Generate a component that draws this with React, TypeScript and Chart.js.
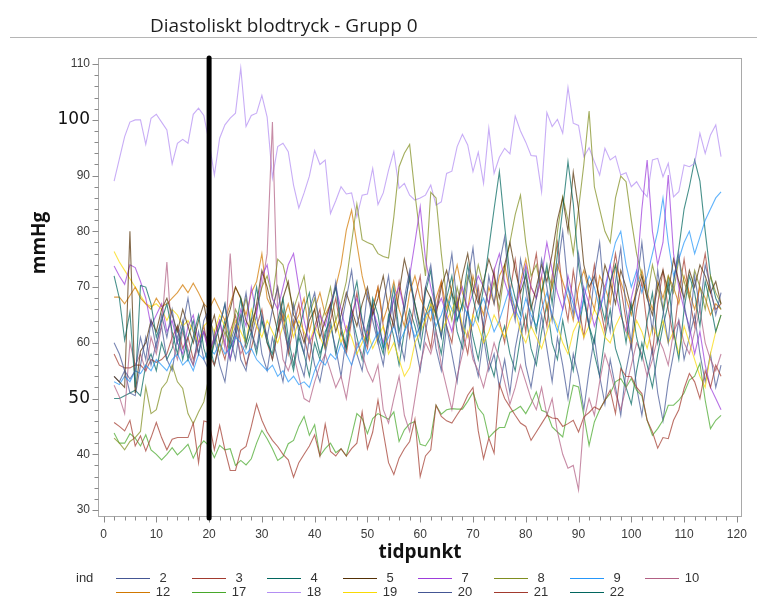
import React, { useEffect, useRef } from 'react';
import { Chart, registerables } from 'chart.js';

Chart.register(...registerables);

const chartTitle = 'Diastoliskt blodtryck - Grupp 0';
const xAxisTitle = 'tidpunkt';
const yAxisTitle = 'mmHg';
const legendTitle = 'ind';

const timepoints = [
  2, 3, 4, 5, 6, 7, 8, 9, 10, 11,
  12, 13, 14, 15, 16, 17, 18, 19, 20, 21,
  22, 23, 24, 25, 26, 27, 28, 29, 30, 31,
  32, 33, 34, 35, 36, 37, 38, 39, 40, 41,
  42, 43, 44, 45, 46, 47, 48, 49, 50, 51,
  52, 53, 54, 55, 56, 57, 58, 59, 60, 61,
  62, 63, 64, 65, 66, 67, 68, 69, 70, 71,
  72, 73, 74, 75, 76, 77, 78, 79, 80, 81,
  82, 83, 84, 85, 86, 87, 88, 89, 90, 91,
  92, 93, 94, 95, 96, 97, 98, 99, 100, 101,
  102, 103, 104, 105, 106, 107, 108, 109, 110, 111,
  112, 113, 114, 115, 116, 117,
];

const xTickValues = [0, 10, 20, 30, 40, 50, 60, 70, 80, 90, 100, 110, 120];
const yTickValues = [30, 40, 50, 60, 70, 80, 90, 100, 110];
const yLargeLabels = [50, 100];
const minorStep = 2;
const referenceTimepoint = 20;

const s2 = [
  60, 58, 55, 53.5, 55, 61, 57, 64, 59, 65,
  61, 66, 60, 63, 68, 62, 58, 64, 66, 60,
  63, 67, 61, 57, 64, 69, 62, 59, 65, 61,
  66, 70, 63, 59, 67, 62, 58, 66, 69, 63,
  59, 66, 71, 63, 68, 73, 65, 61, 69, 64,
  60, 67, 72, 64, 59, 68, 73, 65, 61, 70,
  74, 66, 61, 70, 76, 67, 62, 71, 77, 68,
  63, 72, 67, 74, 79, 69, 64, 75, 70, 63,
  68, 75, 70, 64, 73, 80, 70, 65, 76, 69,
  63, 72, 78, 67, 62, 71, 77, 66, 60, 70,
  78, 69, 62, 73, 66, 60, 71, 76, 67, 62,
  72, 66, 74, 70, 65, 69,
];

const s3 = [
  45.7, 45, 44.2, 46.1, 41.5, 43.3, 40.6, 43, 45.7, 43,
  40.8, 42.7, 43, 43, 43, 45.6, 38.5, 46, 45.7, 40.8,
  45.2, 40.8, 37.1, 37.1, 40.7, 41.4, 45, 49, 46.1, 44,
  42.5, 41.4, 40, 39, 35.9, 38.5, 40, 41.5, 43.5, 39.7,
  45.4, 40.5, 39.7, 41, 39.7, 41, 42, 47.6, 41, 44,
  49.7, 44, 38.5, 36.4, 39.3, 41, 42.3, 46.3, 36, 39.7,
  40.8, 48.8, 46.8, 46, 45.6, 47.1, 48.5, 50.6, 52, 44.2,
  39.2, 42.9, 40.2, 52.6, 50, 48.5, 47, 45.6, 45, 42.5,
  44, 45.5, 47, 46.5, 46.4, 45, 45.5, 46.1, 44, 46.7,
  47.5, 48.5, 48, 49.7, 51.5, 47.3, 55.4, 54, 53.9, 52,
  50.9, 46.1, 44, 41.1, 43, 42.8, 46.1, 48, 51.8, 54.5,
  53, 50, 55, 52, 56, 54,
];

const s4 = [
  72, 68, 60.5, 65.5, 52, 70.3, 70, 67, 61, 64,
  67, 62, 58, 63, 57, 61, 65, 59, 56, 60,
  63, 67, 59, 62, 68, 60, 64, 70, 64, 60,
  58, 64, 68, 61, 56, 62, 66, 69, 62, 58,
  61, 66, 70, 63, 59, 67, 71, 64, 60, 68,
  65, 59, 64, 70, 62, 66, 72, 67, 62, 69,
  73, 65, 61, 68, 72, 64, 67, 74, 68, 64,
  70, 77, 84, 90.7, 81, 72, 68, 65, 73, 67,
  62, 69, 74, 67, 76, 84, 92.5, 85, 74, 68,
  63, 60, 68, 64, 71, 74, 66, 60, 67, 61,
  57, 64, 69, 60, 65, 71, 62, 57, 66, 72,
  69, 63, 71, 67, 62, 65,
];

const s5 = [
  54, 53, 52, 80, 51, 58.5, 60, 64, 62, 66,
  68, 65, 62, 66, 63, 60, 64, 67, 62, 65,
  60, 63, 66, 70, 68, 64, 62, 67, 73, 70,
  66, 62, 68, 71, 65, 63, 60, 64, 66, 61,
  64, 67, 62, 65, 69, 66, 63, 67, 70, 65,
  68, 72, 66, 63, 69, 75, 71, 67, 63, 70,
  68, 65, 70, 73, 69, 66, 72, 76, 70, 67,
  71, 75, 72, 68, 74, 78, 73, 69, 72, 66,
  70, 74, 71, 76, 82, 86, 80, 90.6, 84, 74,
  70, 72, 68, 74, 71, 67, 73, 70, 66, 69,
  72, 68, 65, 70, 73, 69, 75, 71, 68, 73,
  70, 74, 72, 69, 71, 67,
];

const s7 = [
  73.8, 72, 70.5, 74, 73.5, 71, 68, 63, 65, 67,
  62, 64, 60, 58, 63, 65, 60, 62, 58, 61,
  64, 60, 57, 62, 66, 63, 70, 65, 72, 74,
  68, 66, 70, 74, 76, 70, 64, 60, 62, 65,
  63, 67, 70, 66, 62, 65, 68, 64, 61, 66,
  63, 60, 64, 68, 70, 66, 72, 78, 84.4, 75,
  70, 66, 68, 65, 62, 67, 70, 66, 69, 72,
  70, 67, 73, 76, 71, 68, 65, 70, 74, 70,
  68, 72, 78, 73, 69, 66, 72, 68, 64, 70,
  67, 63, 66, 70, 74, 69, 65, 62, 68, 72,
  84, 92.8, 80, 74, 78, 90.1, 76, 70, 66, 63,
  58, 62, 56, 52, 50, 48,
];

const s8 = [
  42.9, 42, 40.8, 42.3, 43, 44.1, 52.1, 47.3, 48, 51.8,
  53, 56, 53, 51.8, 47.3, 45.5, 47.6, 49.4, 54, 62,
  58, 62, 60, 66, 64, 68, 63, 66, 70, 72,
  68, 75, 74, 70, 66, 69, 72, 65, 68, 63,
  66, 70, 64, 67, 71, 78, 84.9, 78.5, 78, 77.6,
  76, 75.5, 75.2, 82.6, 91.6, 94, 95.6, 86.8, 79, 72,
  87, 86, 76, 68, 64, 70, 66, 72, 69, 74,
  70, 67, 71, 66, 73, 78, 83, 86.5, 78, 72,
  74, 69, 73, 70, 80, 86.2, 82, 76, 84, 92,
  101.6, 88, 84, 80, 78, 86, 89.9, 88.9, 82, 76,
  72, 68, 74, 70, 66, 72, 69, 75, 71, 68,
  73, 70, 66, 72, 69, 67,
];

const s9 = [
  53, 52.5, 54, 53, 55, 54.5, 56, 55, 57, 56,
  55, 57, 58, 56, 57, 55, 58, 57, 59, 58,
  60, 58, 59, 61, 60, 58, 59, 57, 56, 55,
  56, 54, 55, 53, 54, 52.5, 53, 52, 55, 57,
  56, 58, 57, 60, 58, 56, 59, 61, 58, 60,
  62, 59, 61, 63, 60, 62, 64, 61, 63, 65,
  66, 63, 65, 68, 66, 64, 67, 65, 63, 66,
  68, 65, 62, 64, 67, 70, 66, 64, 68, 65,
  63, 66, 69, 65, 62, 66, 70, 67, 64, 68,
  72, 70, 66, 69, 74, 78, 80, 74, 70, 73,
  69, 72, 76, 80, 86, 78, 72, 75, 78, 80,
  76, 79, 82, 84, 86, 87.1,
];

const s10 = [
  52.4, 50.3, 47.3, 60, 56, 58, 55, 61, 58, 63,
  74.5, 60, 57, 62, 59, 56, 60, 62, 58, 61,
  64, 59, 76, 62, 58, 60, 64, 66, 70, 76,
  99.6, 65, 57, 55, 58, 54, 50, 49.4, 53, 56,
  58, 55, 52, 54, 50, 56, 60, 58, 55, 53,
  56, 48, 45.6, 50, 54, 47, 44.1, 50, 56, 60,
  58, 62, 56, 52, 48, 54, 58, 62, 57, 55,
  52, 56, 60, 57, 53, 49, 52, 56, 53, 50,
  48, 52, 47, 50, 44, 40, 37.5, 38, 33.6, 46,
  50, 47, 53, 58, 55, 51, 48, 52, 56, 60,
  58, 54, 57, 61, 59, 56, 62, 64, 60, 58,
  62, 66, 60, 57, 55, 58,
];

const s12 = [
  68.2, 68.2, 67, 68.5, 70, 68, 67, 66, 68, 66.5,
  67, 68, 69, 70.4, 69, 70.7, 69, 67, 66, 68,
  66, 64, 67, 70, 68, 65, 69, 71, 76, 68,
  66, 70, 64, 67, 63, 65, 68, 62, 66, 69,
  65, 67, 70, 74, 80.2, 83.8, 77.8, 72, 68, 66,
  70, 64, 67, 71, 66, 63, 69, 72, 68, 66,
  64, 68, 71, 66, 70, 74, 69, 66, 72, 68,
  65, 70, 67, 72, 74, 69, 66, 71, 75, 70,
  68, 72, 66, 70, 74, 71, 68, 64, 70, 73,
  69, 66, 72, 70, 67, 74, 71, 68, 65, 70,
  73, 69, 66, 71, 68, 72, 70, 67, 72, 69,
  66, 70, 68, 65, 67, 66,
];

const s17 = [
  43.8, 42, 42, 43.7, 42.9, 41.5, 43.5, 40.8, 40, 39,
  40, 41.2, 39.9, 40.8, 41.8, 39.3, 41.3, 42.4, 41.5, 39.4,
  41.6, 40.8, 41, 38, 38.9, 38.1, 39.2, 42, 44.3, 42.8,
  41, 38.9, 39.6, 41.9, 42.5, 45, 46.8, 43.4, 45.3, 39.7,
  41, 42, 40.3, 41, 39.7, 43.3, 47.3, 46.4, 43.7, 46.4,
  47.3, 46.8, 46.3, 47.6, 42.3, 44.4, 45.5, 45.9, 41.8, 41.5,
  43, 48.8, 47.2, 48, 48.2, 48.1, 48.1, 49.5, 51.1, 48.3,
  47.1, 43, 44, 44.8, 44.8, 47.5, 48, 48.6, 47.3, 49,
  51.2, 47.9, 47.5, 44.9, 44, 43.1, 48, 52.4, 52.1, 47,
  41.6, 45.8, 48, 49.7, 50.9, 53, 53.6, 52, 53.6, 51.5,
  50.5, 46.1, 43.4, 44.6, 46.1, 48.8, 48.8, 49.7, 51, 53.3,
  54, 56.3, 49.7, 44.6, 46.1, 47,
];

const s18 = [
  89, 93, 97, 99.6, 100, 100, 95.6, 100.3, 101, 99.6,
  98.2, 92.1, 95.8, 96.5, 95.8, 101, 102.1, 100.8, 96, 90.1,
  96.7, 99.1, 100.3, 101.2, 109.3, 98.8, 100.8, 101.2, 104.4, 100.5,
  89.6, 95.2, 95.8, 94.3, 88.3, 84.2, 86.9, 89.9, 94.5, 92,
  92.8, 83.2, 85.5, 88, 86.7, 86.9, 82.6, 86.5, 86.7, 91.3,
  84.8, 86.9, 91, 94.3, 87.7, 88.6, 86.5, 85.6, 86, 86.5,
  88.3, 84.7, 85.3, 90.4, 90.8, 95.2, 97.4, 95.5, 90.7, 94.2,
  88.6, 98.5, 90.4, 93.3, 94.9, 93.9, 100.7, 98, 96, 93.6,
  93.5, 87.1, 101.3, 98.8, 100.1, 97.6, 105.8, 99.4, 99, 93.4,
  95, 92.5, 90.1, 94.9, 92.8, 93.5, 90.1, 90.5, 88, 88.9,
  87.3, 86.2, 92.8, 93.1, 89.8, 92.2, 86.2, 87.1, 91.9, 91.6,
  92.2, 97.6, 94, 97.3, 99.1, 93.4,
];

const s19 = [
  76.4, 74.5, 73, 71.5, 70, 68.5, 67, 66.5, 67, 66,
  64, 66, 65, 63, 64, 62, 60, 63, 64, 62,
  65, 63, 61, 64, 62, 60, 66, 63, 61, 64,
  62, 60, 63, 65, 61, 64, 62, 60, 63, 61,
  59, 62, 64, 60, 63, 61, 58, 60, 62, 59,
  61, 63, 58, 60, 57, 54, 55.5, 60, 62, 64,
  67, 65, 62, 64, 66, 68, 63, 61, 65, 63,
  60, 62, 65, 63, 61, 64, 66, 62, 60, 63,
  61, 59, 62, 65, 63, 60, 58, 62, 64, 61,
  63, 66, 64, 61, 60, 63, 65, 62, 60, 64,
  62, 59, 63, 61, 64, 60, 62, 58, 63, 60,
  57, 54, 52, 58, 62, 65,
];

const s20 = [
  54, 53, 55, 51, 50.5, 56, 61, 56, 60, 63,
  57, 55, 61, 64, 58, 56, 62, 57, 55, 61,
  56, 53, 60, 63, 57, 55, 61, 65, 58, 55,
  61, 57, 53, 60, 64, 57, 54, 61, 56, 53,
  58, 63, 59, 54, 61, 66, 58, 55, 62, 67,
  60, 56, 63, 68, 61, 57, 65, 60, 55, 62,
  67, 59, 55, 63, 58, 53, 61, 66, 58, 54,
  61, 55, 58, 52, 57, 51, 59, 64, 56, 52,
  58, 65, 59, 53, 61, 56, 50, 58, 54, 48,
  55, 61, 54, 49, 57, 52, 47, 55, 60, 52,
  47, 54, 59, 51, 46, 53, 58, 64, 57, 61,
  65, 58, 53, 58, 52, 56,
];

const s21 = [
  58, 56, 55.5, 55.5, 56, 56, 55, 57, 56.5, 57,
  58, 61, 63, 59, 61, 57, 60, 63, 58, 56,
  60, 57, 62, 65, 60, 56, 59, 63, 66, 60,
  57, 62, 65, 58, 63, 67, 61, 57, 63, 66,
  59, 64, 68, 62, 58, 64, 69, 62, 59, 66,
  70, 63, 59, 65, 71, 66, 61, 68, 72, 63,
  59, 66, 71, 63, 60, 68, 62, 58, 65, 70,
  62, 67, 73, 64, 60, 69, 75, 68, 62, 71,
  76, 68, 63, 72, 78, 69, 64, 73, 67, 61,
  68, 74, 67, 62, 70, 76, 70, 64, 59, 66,
  71, 63, 58, 67, 73, 66, 61, 69, 75, 68,
  63, 71, 76, 69, 66, 67,
];

const s22 = [
  50, 50, 50.5, 51, 51.5, 50.5, 56, 58, 55, 60,
  57, 59, 63, 57, 61, 64, 58, 62, 60, 56,
  60, 64, 57, 61, 65, 59, 62, 58, 64, 61,
  57, 62, 66, 59, 55, 61, 58, 54, 60, 57,
  62, 64, 58, 62, 59, 65, 61, 57, 63, 67,
  61, 58, 65, 61, 56, 62, 66, 63, 59, 65,
  68, 62, 58, 65, 69, 62, 59, 66, 61, 57,
  63, 57, 54, 60, 63, 58, 55, 61, 65, 59,
  56, 62, 67, 60, 57, 64, 59, 55, 62, 68,
  63, 58, 54, 61, 66, 59, 56, 52, 49, 55,
  60, 56, 52, 58, 63, 67, 71, 77, 84, 88,
  92.8, 89, 80, 72, 68, 66,
];

const seriesNames = ['2', '3', '4', '5', '7', '8', '9', '10', '12', '17', '18', '19', '20', '21', '22'];
const seriesValues = [s2, s3, s4, s5, s7, s8, s9, s10, s12, s17, s18, s19, s20, s21, s22];
const seriesColors = [
  '#445694', '#A23A2E', '#01665E', '#543005', '#9D3CDB', '#7F8E1F', '#2597FA', '#B26084',
  '#D17800', '#47A82A', '#B38EF3', '#F9DA04', '#445694', '#A23A2E', '#01665E',
];

const narrowFont = '"Liberation Sans Narrow", "Liberation Sans", Arial, sans-serif';
const titleFont = '"Open Sans", "Noto Sans", sans-serif';

function withAlpha(hex: string, a: number) {
  const n = parseInt(hex.slice(1), 16);
  return `rgba(${(n >> 16) & 255},${(n >> 8) & 255},${n & 255},${a})`;
}

export default function App() {
  const canvasRef = useRef<HTMLCanvasElement>(null);

  useEffect(() => {
    document.body.style.margin = '0';
    const canvas = canvasRef.current;
    if (!canvas) return;

    const framePlugin = {
      id: 'framePlugin',
      beforeDatasetsDraw(chart: any) {
        const { ctx, chartArea: a, scales } = chart;
        ctx.save();
        const L = Math.round(a.left) + 0.5;
        const T = Math.round(a.top) + 0.5;
        const R = Math.round(a.right) - 0.5;
        const B = Math.round(a.bottom) - 0.5;
        ctx.strokeStyle = '#a9a9a9';
        ctx.lineWidth = 1;
        ctx.strokeRect(L, T, R - L, B - T);
        ctx.strokeStyle = '#8a8a8a';
        ctx.beginPath();
        const y0 = yTickValues[0];
        const y1 = yTickValues[yTickValues.length - 1];
        for (let v = y0; v <= y1; v += minorStep) {
          const y = Math.round(scales.y.getPixelForValue(v)) + 0.5;
          const len = v % 10 === 0 ? 6 : 4;
          ctx.moveTo(L - len, y);
          ctx.lineTo(L, y);
        }
        const x0 = xTickValues[0];
        const x1 = xTickValues[xTickValues.length - 1];
        for (let v = x0; v <= x1; v += minorStep) {
          const x = Math.round(scales.x.getPixelForValue(v)) + 0.5;
          const len = v % 10 === 0 ? 6 : 4;
          ctx.moveTo(x, B);
          ctx.lineTo(x, B + len);
        }
        ctx.stroke();
        ctx.restore();
      },
      afterDatasetsDraw(chart: any) {
        const { ctx, chartArea: a, scales } = chart;
        const x = scales.x.getPixelForValue(referenceTimepoint);
        ctx.save();
        ctx.strokeStyle = '#000';
        ctx.lineWidth = 5;
        ctx.lineCap = 'round';
        ctx.beginPath();
        ctx.moveTo(x, a.top);
        ctx.lineTo(x, a.bottom + 1);
        ctx.stroke();
        ctx.restore();
      },
      afterDraw(chart: any) {
        const { ctx, chartArea: a } = chart;
        ctx.save();
        ctx.fillStyle = '#111';
        ctx.font = `bold 19px ${titleFont}`;
        ctx.textAlign = 'center';
        ctx.textBaseline = 'middle';
        ctx.fillText(xAxisTitle, (a.left + a.right) / 2, a.bottom + 36);
        ctx.translate(a.left - 58, a.top + (a.bottom - a.top) * 0.403);
        ctx.rotate(-Math.PI / 2);
        ctx.fillText(yAxisTitle, 0, 0);
        ctx.restore();
      },
    };

    const datasets = seriesValues.map((vals, i) => ({
      label: seriesNames[i],
      data: vals.map((y, j) => ({ x: timepoints[j], y })),
      borderColor: withAlpha(seriesColors[i], 0.72),
      backgroundColor: withAlpha(seriesColors[i], 0.72),
      borderWidth: 1.1,
      pointRadius: 0,
      tension: 0,
      fill: false,
    }));

    const chart = new Chart(canvas, {
      type: 'line',
      data: { datasets },
      options: {
        responsive: false,
        animation: false,
        events: [],
        layout: { padding: { top: 58, right: 15, left: 0, bottom: 0 } },
        plugins: {
          legend: { display: false },
          title: { display: false },
          tooltip: { enabled: false },
        },
        scales: {
          x: {
            type: 'linear',
            min: -1.05,
            max: 120.95,
            grid: { display: false, drawTicks: false },
            border: { display: false },
            afterBuildTicks: (s: any) => {
              s.ticks = xTickValues.map((v) => ({ value: v }));
            },
            afterFit: (s: any) => {
              s.height = 83;
            },
            ticks: {
              autoSkip: false,
              maxRotation: 0,
              padding: 10,
              color: '#3a3a3a',
              font: { family: narrowFont, size: 12 },
              callback: (v: any) => String(v),
            },
          },
          y: {
            type: 'linear',
            min: 28.75,
            max: 111.1,
            grid: { display: false, drawTicks: false },
            border: { display: false },
            afterBuildTicks: (s: any) => {
              s.ticks = yTickValues.map((v) => ({ value: v }));
            },
            afterFit: (s: any) => {
              s.width = 98;
            },
            ticks: {
              autoSkip: false,
              padding: 8,
              color: (c: any) =>
                c.tick && yLargeLabels.includes(c.tick.value) ? '#111' : '#3a3a3a',
              font: (c: any) =>
                c.tick && yLargeLabels.includes(c.tick.value)
                  ? { family: '"DejaVu Sans", sans-serif', size: 17 }
                  : { family: narrowFont, size: 12 },
              callback: (v: any) => String(v),
            },
          },
        },
      } as any,
      plugins: [framePlugin],
    });

    return () => chart.destroy();
  }, []);

  const legendFont = `13px ${narrowFont}`;

  return (
    <div style={{ position: 'relative', width: 757, height: 600, background: '#fff', overflow: 'hidden' }}>
      <canvas ref={canvasRef} width={757} height={600} style={{ display: 'block' }} />
      <div
        style={{
          position: 'absolute',
          left: 150,
          top: 12,
          font: `19px ${titleFont}`,
          lineHeight: '26px',
          color: '#1e1e1e',
          whiteSpace: 'nowrap',
        }}
      >
        {chartTitle}
      </div>
      <div style={{ position: 'absolute', left: 10, right: 0, top: 37, height: 1, background: '#b5b5b5' }} />
      <div
        style={{
          position: 'absolute',
          left: 76,
          top: 571,
          font: legendFont,
          lineHeight: '14px',
          color: '#333',
        }}
      >
        {legendTitle}
      </div>
      {seriesNames.map((name, i) => {
        const col = i % 8;
        const row = Math.floor(i / 8);
        const x0 = Math.round(116 + col * 75.6);
        const y = Math.round(578 + row * 13.5);
        return (
          <React.Fragment key={name + '-' + i}>
            <div
              style={{
                position: 'absolute',
                left: x0,
                top: y,
                width: 34,
                height: 1,
                background: seriesColors[i],
              }}
            />
            <div
              style={{
                position: 'absolute',
                left: x0 + 36,
                top: y - 7,
                width: 22,
                textAlign: 'center',
                font: legendFont,
                lineHeight: '14px',
                color: '#333',
              }}
            >
              {name}
            </div>
          </React.Fragment>
        );
      })}
    </div>
  );
}
